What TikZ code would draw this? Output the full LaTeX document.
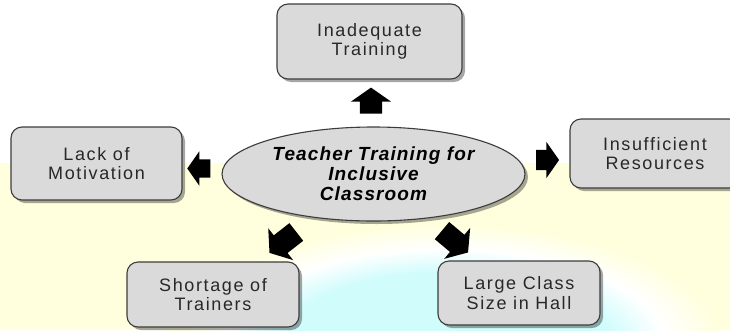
\documentclass[tikz,border=0pt]{standalone}
\usepackage{fontspec}
\setmainfont{Liberation Sans}
\newfontfamily\boxfont{Liberation Sans}[LetterSpace=9]
\newfontfamily\ellfont{Liberation Sans}[LetterSpace=6]
\usetikzlibrary{shapes.geometric,shapes.arrows,shadows}
\definecolor{bgyellow}{RGB}{255,255,222}
\definecolor{glowcyan}{RGB}{208,252,252}
\definecolor{boxfill}{RGB}{218,218,218}
\definecolor{boxline}{RGB}{60,60,60}
\definecolor{boxtext}{RGB}{40,40,40}
\pgfdeclareradialshading{glow}{\pgfpoint{0bp}{0bp}}{color(0bp)=(glowcyan); color(15bp)=(glowcyan); color(20bp)=(white); color(25bp)=(bgyellow); color(50bp)=(bgyellow)}
\begin{document}
\begin{tikzpicture}[x=1pt,y=-1pt,
  causebox/.style={draw=boxline, line width=1.1pt, fill=boxfill, rounded corners=11pt,
    align=center, inner sep=0pt, text=boxtext,
    font=\boxfont\fontsize{18pt}{19.5pt}\selectfont,
    drop shadow={shadow xshift=3pt, shadow yshift=-3pt, fill=black, opacity=0.35}},
  hub/.style={ellipse, draw=boxline, line width=1.1pt, fill=boxfill, inner sep=0pt,
    align=center, text=black,
    font=\ellfont\bfseries\itshape\fontsize{19pt}{20pt}\selectfont,
    drop shadow={shadow xshift=3pt, shadow yshift=-3pt, fill=black, opacity=0.35}},
  blockarrow/.style={single arrow, fill=black, draw=none, inner xsep=0pt,
    single arrow head extend=8pt, single arrow tip angle=110}
]
\useasboundingbox (0,0) rectangle (730,330);
% background
\fill[white] (0,0) rectangle (730,330);
\fill[bgyellow] (0,163) rectangle (730,330);
\begin{scope}
  \clip (0,163) rectangle (730,330);
  \shade[shading=glow] (445,345) ellipse (275pt and 120pt);
\end{scope}
% nodes
\node[hub, minimum width=303pt, minimum height=94pt] (hubnode) at (373.5,174)
  {Teacher Training for\\Inclusive\\Classroom};
\node[causebox, minimum width=185pt, minimum height=75pt] (inad) at (369.5,41.5)
  {Inadequate\\Training};
\node[causebox, minimum width=171pt, minimum height=73pt] (lack) at (96.5,163.5)
  {Lack of\\Motivation};
\node[causebox, minimum width=170pt, minimum height=69pt] (insuf) at (655,153.5)
  {Insufficient\\Resources};
\node[causebox, minimum width=172pt, minimum height=65pt] (short) at (213,294.5)
  {Shortage of\\Trainers};
\node[causebox, minimum width=162pt, minimum height=64pt] (large) at (519,293)
  {Large Class\\Size in Hall};
% block arrows
\node[blockarrow, inner ysep=11pt, minimum height=26pt, single arrow head extend=9pt, rotate=90] (aup) at (371,104.5) {};
\node[blockarrow, inner ysep=9pt, minimum height=23pt, rotate=180] (aleft) at (202,168.5) {};
\node[blockarrow, inner ysep=10pt, minimum height=23pt, rotate=0] (aright) at (544,160) {};
\node[blockarrow, inner ysep=11pt, minimum height=34pt, single arrow head extend=9pt, rotate=218] (adl) at (286,240) {};
\node[blockarrow, inner ysep=11pt, minimum height=34pt, single arrow head extend=9pt, rotate=-40] (adr) at (452,239) {};
\end{tikzpicture}
\end{document}
